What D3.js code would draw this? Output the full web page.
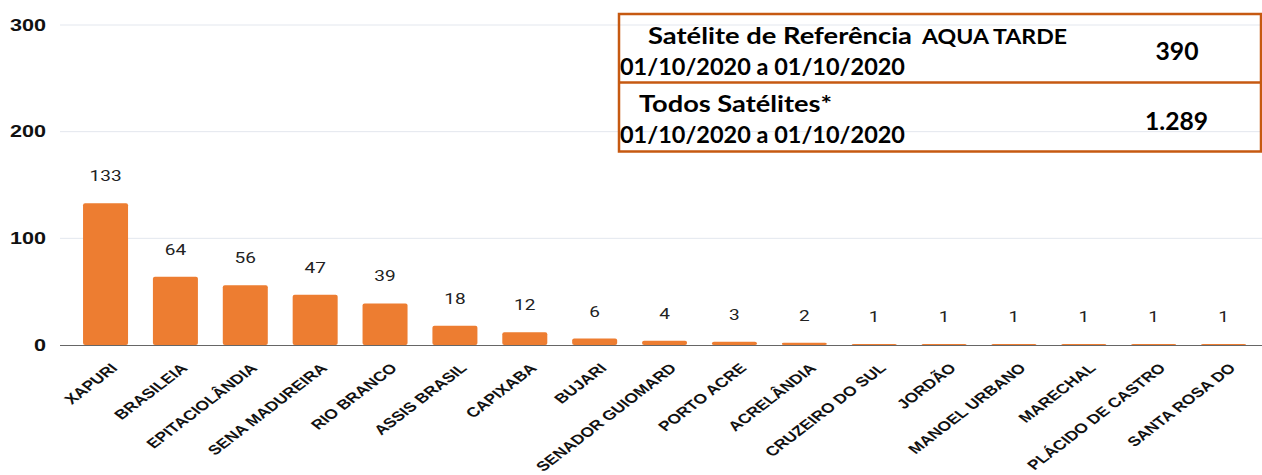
<!DOCTYPE html>
<html>
<head>
<meta charset="utf-8">
<script src="https://cdn.jsdelivr.net/npm/d3@7"></script>
<style>
  body { margin: 0; background: #fff; }
  svg { display: block; }
</style>
</head>
<body>
<div id="chart"></div>
<script>
// dados do gráfico
const municipios = ["XAPURI", "BRASILEIA", "EPITACIOLÂNDIA", "SENA MADUREIRA", "RIO BRANCO",
  "ASSIS BRASIL", "CAPIXABA", "BUJARI", "SENADOR GUIOMARD", "PORTO ACRE", "ACRELÂNDIA",
  "CRUZEIRO DO SUL", "JORDÃO", "MANOEL URBANO", "MARECHAL", "PLÁCIDO DE CASTRO", "SANTA ROSA DO"];
const focos = [133, 64, 56, 47, 39, 18, 12, 6, 4, 3, 2, 1, 1, 1, 1, 1, 1];
const yTicks = [0, 100, 200, 300];

const tabelaTitulos = ["Satélite de Referência", "Todos Satélites*"];
const tabelaExtras = ["AQUA TARDE", ""];
const tabelaPeriodos = ["01/10/2020 a 01/10/2020", "01/10/2020 a 01/10/2020"];
const tabelaValores = ["390", "1.289"];

const width = 1262, height = 475;
const laranja = "#ED7D31";
const esticar = 1.3; // a imagem original está esticada na horizontal

const svg = d3.select("#chart").append("svg")
  .attr("width", width)
  .attr("height", height);

const y = d3.scaleLinear().domain([0, 300]).range([345, 25]);
const x = d3.scaleBand().domain(municipios).range([70.6, 1258.5])
  .paddingInner(0.356).paddingOuter(0.178);

// linhas de grade
svg.append("g")
  .selectAll("line")
  .data(yTicks.filter(d => d > 0))
  .join("line")
  .attr("x1", 60).attr("x2", width)
  .attr("y1", d => y(d)).attr("y2", d => y(d))
  .attr("stroke", "#e3e7ee")
  .attr("stroke-width", 1);

// rótulos do eixo y
svg.append("g")
  .selectAll("text")
  .data(yTicks)
  .join("text")
  .attr("transform", d => `translate(46,${y(d)}) scale(1.35,1)`)
  .attr("dy", "0.36em")
  .attr("text-anchor", "end")
  .style("font-family", "'Liberation Sans', Arial, sans-serif")
  .style("font-weight", "bold")
  .style("font-size", "16px")
  .attr("fill", "#111")
  .text(d => d);

// barras
svg.append("g")
  .selectAll("rect")
  .data(focos)
  .join("rect")
  .attr("x", (d, i) => x(municipios[i]))
  .attr("width", x.bandwidth())
  .attr("y", d => y(d))
  .attr("height", d => y(0) - y(d))
  .attr("rx", 2)
  .attr("fill", laranja);

// eixo base
svg.append("line")
  .attr("x1", 60).attr("x2", width)
  .attr("y1", y(0) + 0.5).attr("y2", y(0) + 0.5)
  .attr("stroke", "#666")
  .attr("stroke-width", 1.2);

// valores acima das barras
svg.append("g")
  .selectAll("text")
  .data(focos)
  .join("text")
  .attr("transform", (d, i) => `translate(${x(municipios[i]) + x.bandwidth() / 2},${y(d) - 22}) scale(1.27,1)`)
  .attr("text-anchor", "middle")
  .style("font-family", "Roboto, sans-serif")
  .style("font-size", "15px")
  .attr("fill", "#222")
  .text(d => d);

// rótulos do eixo x
svg.append("g")
  .selectAll("text")
  .data(municipios)
  .join("text")
  .attr("transform", d => `translate(${x(d) + x.bandwidth() / 2 + 13},${369}) scale(${esticar},1) rotate(-45)`)
  .attr("text-anchor", "end")
  .style("font-family", "'Liberation Sans', Arial, sans-serif")
  .style("font-weight", "bold")
  .style("font-size", "13.5px")
  .attr("fill", "#111")
  .text(d => d);

// tabela sobreposta
const caixa = { x0: 619, x1: 1261, y0: 14, ym: 82.5, y1: 151.5 };
const borda = "#C65911";
const tab = svg.append("g");
tab.append("rect")
  .attr("x", caixa.x0).attr("y", caixa.y0)
  .attr("width", caixa.x1 - caixa.x0).attr("height", caixa.y1 - caixa.y0)
  .attr("fill", "none")
  .attr("stroke", borda)
  .attr("stroke-width", 2.5);
tab.append("line")
  .attr("x1", caixa.x0).attr("x2", caixa.x1)
  .attr("y1", caixa.ym).attr("y2", caixa.ym)
  .attr("stroke", borda).attr("stroke-width", 2.5);

const fonteTab = "Lato, 'Open Sans', sans-serif";
function textoTab(tx, ty, str, size, len, anchor) {
  return tab.append("text")
    .attr("x", tx).attr("y", ty)
    .attr("text-anchor", anchor || "start")
    .attr("textLength", len)
    .attr("lengthAdjust", "spacingAndGlyphs")
    .style("font-family", fonteTab)
    .style("font-weight", "bold")
    .style("font-size", size + "px")
    .attr("fill", "#000")
    .text(str);
}

// linha 1
textoTab(648, 43.5, tabelaTitulos[0], 23, 264);
textoTab(922, 43.5, tabelaExtras[0], 21, 145);
textoTab(620, 75, tabelaPeriodos[0], 23, 285);
textoTab(1177, 60, tabelaValores[0], 24, 43, "middle");
// linha 2
textoTab(639, 112, tabelaTitulos[1], 23, 193);
textoTab(620, 143, tabelaPeriodos[1], 23, 285);
textoTab(1176.5, 130, tabelaValores[1], 24, 63, "middle");
</script>
</body>
</html>
